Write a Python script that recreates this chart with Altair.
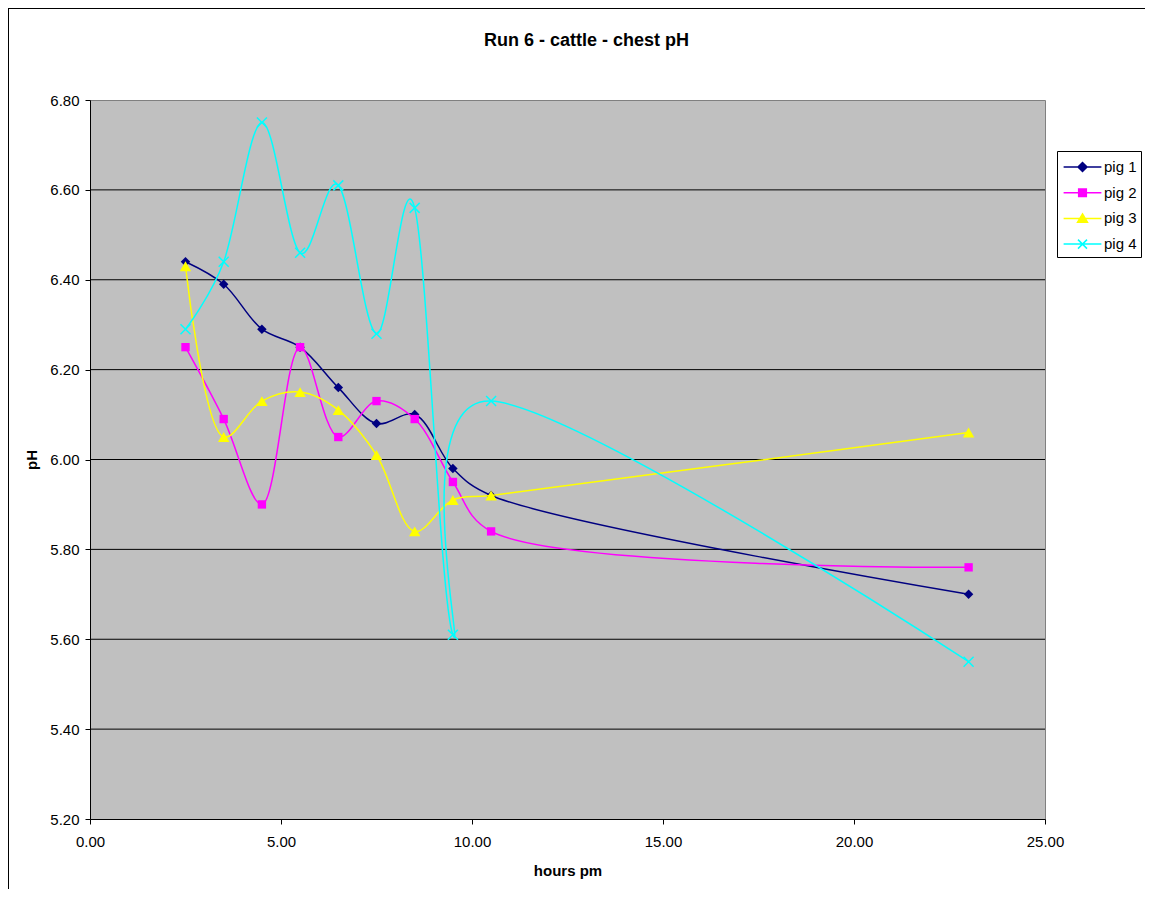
import altair as alt
import pandas as pd

hours = [2.5, 3.5, 4.5, 5.5, 6.5, 7.5, 8.5, 9.5, 10.5, 23.0]
pig1 = [6.44, 6.39, 6.29, 6.25, 6.16, 6.08, 6.10, 5.98, 5.92, 5.70]
pig2 = [6.25, 6.09, 5.90, 6.25, 6.05, 6.13, 6.09, 5.95, 5.84, 5.76]
pig3 = [6.43, 6.05, 6.13, 6.15, 6.11, 6.01, 5.84, 5.91, 5.92, 6.06]
pig4 = [6.29, 6.44, 6.75, 6.46, 6.61, 6.28, 6.56, 5.61, 6.13, 5.55]

series_names = ["pig 1", "pig 2", "pig 3", "pig 4"]
series_colors = ["#000080", "#FF00FF", "#FFFF00", "#00FFFF"]
grid_values = [5.4, 5.6, 5.8, 6.0, 6.2, 6.4, 6.6]
y_ticks = [5.2, 5.4, 5.6, 5.8, 6.0, 6.2, 6.4, 6.6, 6.8]
x_ticks = [0, 5, 10, 15, 20, 25]

rows = []
for name, vals in zip(series_names, [pig1, pig2, pig3, pig4]):
    for h, v in zip(hours, vals):
        rows.append({"pig": name, "hours": h, "pH": v})
df = pd.DataFrame(rows)
grid_df = pd.DataFrame({"g": grid_values})

FONT = "Liberation Sans"
W, H = 955, 719

xscale = alt.Scale(domain=[0, 25], nice=False, zero=False)
yscale = alt.Scale(domain=[5.2, 6.8], nice=False, zero=False)

x_axis = alt.Axis(
    values=x_ticks, format=".2f", title="hours pm", grid=False,
    tickSize=5, tickColor="black", domainColor="black",
    labelFontSize=15, labelFont=FONT, labelColor="black", labelPadding=10,
    titleFont=FONT, titleFontSize=15, titleFontWeight="bold", titleColor="black",
    titlePadding=14, labelFlush=False)
y_axis = alt.Axis(
    values=y_ticks, format=".2f", title="pH", grid=False,
    tickSize=5, tickColor="black", domainColor="black",
    labelFontSize=15, labelFont=FONT, labelColor="black", labelPadding=6,
    titleFont=FONT, titleFontSize=15, titleFontWeight="bold", titleColor="black",
    titlePadding=10)

grid = alt.Chart(grid_df).mark_rule(color="black", strokeWidth=1).encode(
    y=alt.Y("g:Q", scale=yscale, axis=y_axis))

marker_shapes = ["diamond", "square", "triangle-up", "M-1,-1L1,1M1,-1L-1,1"]
marker_sizes = [90, 70, 130, 100]
smoothing = ["catmull-rom", "catmull-rom", "catmull-rom", "cardinal"]
series_layers = []
for name, col, shp, sz, interp in zip(series_names, series_colors, marker_shapes, marker_sizes, smoothing):
    is_x = shp.startswith("M")
    base = alt.Chart(df).transform_filter(alt.datum.pig == name)
    ln = base.mark_line(interpolate=interp, strokeWidth=1.5, color=col).encode(
        x=alt.X("hours:Q", scale=xscale, axis=x_axis),
        y=alt.Y("pH:Q", scale=yscale, axis=y_axis))
    pt = base.mark_point(
        shape=shp, size=sz, filled=not is_x, color=col,
        strokeWidth=1.5 if is_x else 0, opacity=1).encode(
        x=alt.X("hours:Q", scale=xscale), y=alt.Y("pH:Q", scale=yscale))
    series_layers += [ln, pt]

legend_shapes = [
    "M-4.2,0L4.2,0M0,-1L1,0L0,1L-1,0Z",
    "M-4.2,0L4.2,0M-0.85,-0.85L0.85,-0.85L0.85,0.85L-0.85,0.85Z",
    "M-4.2,0L4.2,0M0,-1L1.1,0.85L-1.1,0.85Z",
    "M-4.2,0L4.2,0M-1,-1L1,1M1,-1L-1,1",
]
leg = alt.Legend(orient="none", legendX=967, legendY=51, title=" ",
                 titleFontSize=1, titlePadding=3.5,
                 labelFont=FONT, labelFontSize=15, labelColor="black",
                 symbolSize=81, symbolStrokeWidth=1.5, symbolOffset=14,
                 labelOffset=14, padding=4, rowPadding=9.7,
                 strokeColor="black", fillColor="white")
legend_layer = alt.Chart(df).transform_filter("false").mark_point(opacity=1).encode(
    x=alt.X("hours:Q", scale=xscale), y=alt.Y("pH:Q", scale=yscale),
    fill=alt.Fill("pig:N", scale=alt.Scale(domain=series_names, range=series_colors), legend=leg),
    stroke=alt.Stroke("pig:N", scale=alt.Scale(domain=series_names, range=series_colors), legend=leg),
    shape=alt.Shape("pig:N", scale=alt.Scale(domain=series_names, range=legend_shapes), legend=leg),
)

border = alt.Chart(grid_df).mark_rule(color="black", strokeWidth=1).encode(
    x=alt.value(-81.5), x2=alt.value(-81.5), y=alt.value(-91.5), y2=alt.value(H + 80))
border_top = alt.Chart(grid_df).mark_rule(color="black", strokeWidth=1).encode(
    x=alt.value(-81.5), x2=alt.value(W + 110), y=alt.value(-91.5), y2=alt.value(-91.5))

chart = alt.layer(grid, *series_layers, legend_layer, border, border_top).properties(
    width=W, height=H,
    title=alt.TitleParams("Run 6 - cattle - chest pH", font=FONT, fontSize=18,
                          fontWeight="bold", color="black", anchor="middle", dx=19, offset=-42),
    autosize=alt.AutoSizeParams(type="none"),
    padding={"left": 82, "top": 92, "right": 100, "bottom": 70},
).configure(background="white").configure_view(fill="#C0C0C0", stroke="#808080", strokeWidth=1)

chart.save("out.html", embed_options={"renderer": "svg", "actions": False})
